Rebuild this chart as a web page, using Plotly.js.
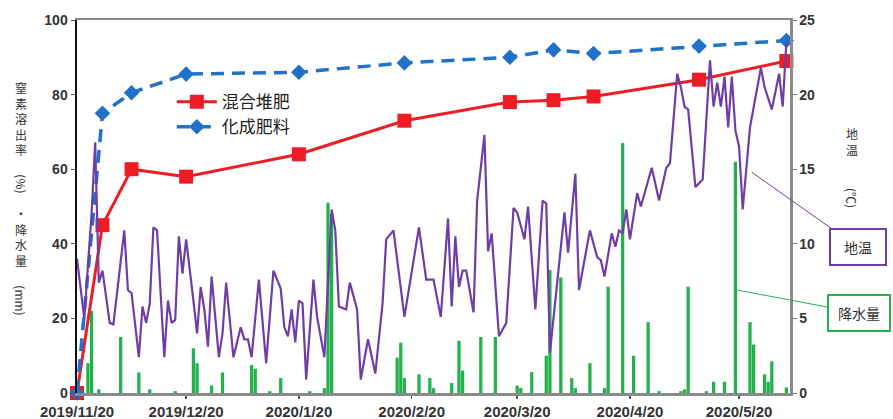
<!DOCTYPE html>
<html>
<head>
<meta charset="utf-8">
<script src="https://cdn.plot.ly/plotly-3.0.1.min.js"></script>
<style>html,body{margin:0;padding:0;background:#fff;}#chart{width:893px;height:419px;}</style>
</head>
<body>
<div id="chart"></div>
<script>
// ---- Data ----
const fertDates = ['2019-11-20','2019-11-27','2019-12-05','2019-12-20','2020-01-20','2020-02-18','2020-03-18','2020-03-30','2020-04-10','2020-05-09','2020-06-02'];
const compostRate = [0, 45, 60, 58, 64, 73, 78, 78.5, 79.5, 84, 89];      // 混合堆肥 (%)
const chemicalRate = [0, 75, 80.5, 85.5, 86, 88.5, 90, 92, 91, 93, 94.5];  // 化成肥料 (%)

const soilDates = ['2019-11-20','2019-11-21','2019-11-22','2019-11-24','2019-11-25','2019-11-26','2019-11-27','2019-11-29','2019-11-30',
'2019-12-03','2019-12-04','2019-12-05','2019-12-07','2019-12-08','2019-12-09','2019-12-10','2019-12-11','2019-12-12','2019-12-14','2019-12-15',
'2019-12-16','2019-12-17','2019-12-18','2019-12-19','2019-12-20','2019-12-22','2019-12-23','2019-12-24','2019-12-25','2019-12-26','2019-12-27',
'2019-12-29','2019-12-30','2019-12-31','2020-01-02','2020-01-04','2020-01-05','2020-01-06','2020-01-07','2020-01-09','2020-01-11','2020-01-13',
'2020-01-15','2020-01-16','2020-01-17','2020-01-18','2020-01-19','2020-01-20','2020-01-21','2020-01-22','2020-01-24','2020-01-25','2020-01-27',
'2020-01-29','2020-01-30','2020-01-31','2020-02-02','2020-02-03','2020-02-05','2020-02-06','2020-02-08','2020-02-10','2020-02-12','2020-02-13',
'2020-02-15','2020-02-18','2020-02-22','2020-02-24','2020-02-26','2020-02-28','2020-03-01','2020-03-02','2020-03-03','2020-03-04','2020-03-05',
'2020-03-06','2020-03-08','2020-03-09','2020-03-11','2020-03-12','2020-03-13','2020-03-15','2020-03-17','2020-03-19','2020-03-20','2020-03-22',
'2020-03-23','2020-03-25','2020-03-27','2020-03-28','2020-03-29','2020-04-02','2020-04-03','2020-04-05','2020-04-06','2020-04-09','2020-04-11',
'2020-04-12','2020-04-13','2020-04-15','2020-04-16','2020-04-17','2020-04-18','2020-04-19','2020-04-20','2020-04-22','2020-04-23','2020-04-26',
'2020-04-28','2020-04-30','2020-05-01','2020-05-03','2020-05-04','2020-05-05','2020-05-06','2020-05-08','2020-05-10','2020-05-12','2020-05-13',
'2020-05-14','2020-05-15','2020-05-16','2020-05-17','2020-05-18','2020-05-19','2020-05-20','2020-05-21','2020-05-23','2020-05-26','2020-05-27',
'2020-05-29','2020-05-31','2020-06-01','2020-06-02'];
const soilTemp = [9.0,7.0,5.0,12.0,16.8,7.4,8.2,4.7,4.6,
10.9,6.9,6.7,2.4,5.8,4.7,6.0,11.1,10.9,2.4,6.2,
4.7,4.9,10.5,8.0,10.3,6.2,4.0,7.1,5.6,3.1,7.8,
2.4,4.0,7.4,2.4,4.4,3.6,3.6,2.4,7.6,2.0,8.2,
7.0,4.4,3.8,5.6,3.4,6.2,6.0,0.9,7.6,5.1,2.4,
12.3,10.9,5.8,5.6,7.4,5.6,0.9,3.6,1.3,6.0,10.3,
10.9,5.1,11.1,7.6,7.6,5.1,11.7,5.8,10.5,7.1,8.2,
8.2,5.4,12.9,17.3,9.5,10.7,3.8,4.7,12.4,12.1,10.3,
12.5,5.6,12.9,12.7,2.7,12.1,9.4,14.7,6.9,10.9,9.1,
8.9,7.8,10.7,9.8,10.9,10.7,12.3,10.3,13.4,12.5,15.1,
12.9,15.1,15.4,21.4,20.5,19.2,19.0,13.8,14.3,22.3,19.2,
20.8,19.2,21.2,17.8,21.2,17.6,16.5,12.3,17.8,21.8,20.5,
19.0,21.4,19.2,23.5];

const rainDates = ['2019-11-23','2019-11-24','2019-11-26','2019-12-02','2019-12-07','2019-12-10','2019-12-17','2019-12-22','2019-12-23','2019-12-27',
'2019-12-30','2020-01-07','2020-01-08','2020-01-12','2020-01-15','2020-01-23','2020-01-27','2020-01-28','2020-01-29','2020-02-16','2020-02-17',
'2020-02-18','2020-02-22','2020-02-25','2020-02-26','2020-03-02','2020-03-04','2020-03-05','2020-03-10','2020-03-14','2020-03-20','2020-03-21',
'2020-03-24','2020-03-28','2020-03-29','2020-04-01','2020-04-04','2020-04-05','2020-04-09','2020-04-13','2020-04-14','2020-04-18','2020-04-21',
'2020-04-25','2020-04-28','2020-05-04','2020-05-05','2020-05-06','2020-05-11','2020-05-13','2020-05-16','2020-05-19','2020-05-23','2020-05-24',
'2020-05-27','2020-05-28','2020-05-29','2020-06-02'];
const rainMm = [8,22,1,15,5.5,1,0.5,12,8,2,
5.5,7.5,6.5,0.5,4,0.5,1.3,51,48,9.5,13.5,
4,5,4,1.3,2.7,14,6,15,15,2,1.3,
5.6,10,33,31,4,1.3,8,1.3,28.5,67,10,
19,0.5,0.5,1,28.5,0.5,3,3,62,19,13,
5,3,8.5,1.5];

const tickDates = ['2019-11-20','2019-12-20','2020-01-20','2020-02-20','2020-03-20','2020-04-20','2020-05-20'];
const tickLabels = ['2019/11/20','2019/12/20','2020/1/20','2020/2/20','2020/3/20','2020/4/20','2020/5/20'];

// axis titles written vertically: [text, angle]
const leftTitle = [['窒<br>素<br>溶<br>出<br>率',0],['(%)',90],['・<br>降<br>水<br>量',0],['(mm)',90]];
const rightTitle = [['地<br>温',0],['(℃)',90]];

// ---- Styles ----
const JP = '"Noto Sans CJK JP", "Noto Sans", sans-serif';
const NUM = '"Liberation Sans", Arial, sans-serif';
const RED = '#ee1c25', BLUE = '#1f72c8', PURPLE = '#6f3da8', GREEN = '#22b24c';

const traces = [
  {type:'bar', x: rainDates, y: rainMm, yaxis:'y', marker:{color:GREEN}, showlegend:false, hoverinfo:'x+y'},
  {type:'scatter', mode:'lines', x: soilDates, y: soilTemp, yaxis:'y2', line:{color:PURPLE, width:2.2}, showlegend:false},
  {type:'scatter', mode:'lines+markers', name:'混合堆肥', x: fertDates, y: compostRate, yaxis:'y',
   line:{color:RED, width:3}, marker:{symbol:'square', size:14, color:RED}, cliponaxis:false},
  {type:'scatter', mode:'lines+markers', name:'化成肥料', x: fertDates, y: chemicalRate, yaxis:'y',
   line:{color:BLUE, width:3.5, dash:'13px,8px'}, marker:{symbol:'diamond', size:12, color:BLUE}, cliponaxis:false}
];

const tickFont = {family: NUM, size: 14, color: '#333', weight: 'bold'};

// layout positions for the vertical title blocks (pixel rows -> paper)
const plotTop = 20, plotBottom = 393;
const toPaperY = py => (plotBottom - py) / (plotBottom - plotTop);
const leftRows = [119, 184, 237, 300];
const rightRows = [141, 198];

const annotations = [];
leftTitle.forEach((c, i) => annotations.push({
  xref:'paper', yref:'paper', x:-0.079, y:toPaperY(leftRows[i]), xanchor:'center', yanchor:'middle',
  text:c[0], textangle:c[1], showarrow:false, font:{family:JP, size:12, color:'#333'}
}));
rightTitle.forEach((c, i) => annotations.push({
  xref:'paper', yref:'paper', x:1.087, y:toPaperY(rightRows[i]), xanchor:'center', yanchor:'middle',
  text:c[0], textangle:c[1], showarrow:false, font:{family:JP, size:12, color:'#333'}
}));
annotations.push(
  {xref:'x', yref:'y2', x:'2020-05-23 12:00', y:14.8, text:'地温', showarrow:true, arrowhead:0, arrowwidth:1, arrowcolor:PURPLE,
   ax:106, ay:75, bordercolor:PURPLE, borderwidth:2, borderpad:2, width:50, height:30, bgcolor:'#fff',
   font:{family:JP, size:14, color:'#333'}},
  {xref:'x', yref:'y', x:'2020-05-19 12:00', y:27.6, text:'降水量', showarrow:true, arrowhead:0, arrowwidth:1, arrowcolor:GREEN,
   ax:122, ay:23, bordercolor:GREEN, borderwidth:2, borderpad:2, width:56, height:30, bgcolor:'#fff',
   font:{family:JP, size:14, color:'#333'}}
);

const layout = {
  width: 893, height: 419,
  margin: {l: 77, r: 103, t: 20, b: 26},
  paper_bgcolor: '#fff', plot_bgcolor: '#fff',
  bargap: 0.1,
  xaxis: {
    type: 'date', range: ['2019-11-20', '2020-06-03'],
    tickvals: tickDates, ticktext: tickLabels,
    tickfont: {family: NUM, size: 15, color: '#333', weight: 'bold'},
    ticks: 'outside', ticklen: 3, tickcolor: '#555', tickwidth: 1.5,
    showline: true, linecolor: '#8a8a8a', linewidth: 2.5, mirror: true,
    showgrid: false, zeroline: false, automargin: false
  },
  yaxis: {
    range: [0, 100], dtick: 20, tickfont: tickFont,
    ticks: 'outside', ticklen: 4, tickcolor: '#555',
    showline: true, linecolor: '#111', linewidth: 2.5,
    showgrid: false, zeroline: false, automargin: false
  },
  yaxis2: {
    range: [0, 25], dtick: 5, overlaying: 'y', side: 'right', tickfont: tickFont,
    ticks: 'outside', ticklen: 4, tickcolor: '#777',
    showline: true, linecolor: '#8a8a8a', linewidth: 2.5,
    showgrid: false, zeroline: false, automargin: false
  },
  legend: {
    x: 0.133, y: 0.828, xanchor: 'left', yanchor: 'top',
    bgcolor: 'rgba(0,0,0,0)', font: {family: JP, size: 17, color: '#222'},
    itemwidth: 40, tracegroupgap: 0
  },
  showlegend: true,
  annotations: annotations
};

Plotly.newPlot('chart', traces, layout, {displayModeBar: false, staticPlot: true});
</script>
</body>
</html>
